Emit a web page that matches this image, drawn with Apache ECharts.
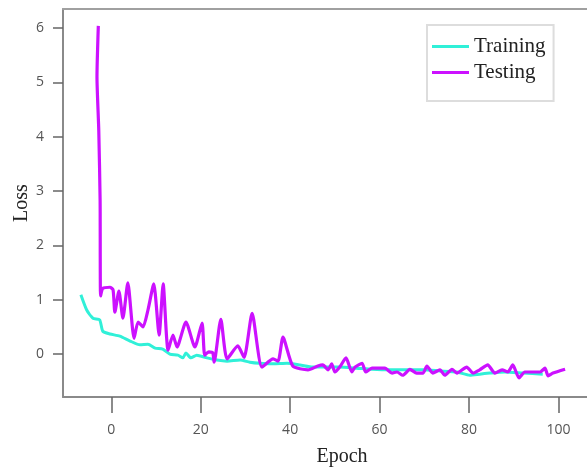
<!DOCTYPE html>
<html>
<head>
<meta charset="utf-8">
<script src="https://cdn.jsdelivr.net/npm/echarts@6/dist/echarts.min.js"></script>
<style>html,body{margin:0;padding:0;background:#fff;}#chart{width:587px;height:468px;}</style>
</head>
<body>
<div id="chart"></div>
<script>
var xTicks = [0, 20, 40, 60, 80, 100];
var yTicks = [0, 1, 2, 3, 4, 5, 6];

var trainEpochs = [-6.8, -5.5, -4.1, -2.6, -1.9, -0.3, 1.9, 4.2, 6.4, 8.2, 9.8, 11.5, 13.1, 14.9, 16.0, 16.7, 17.8, 19.1, 21.4, 23.6, 25.9, 28.8, 31.0, 33.2, 36.2, 39.3, 42.2, 45.1, 47.3, 51.1, 54.9, 58.3, 62.3, 66.8, 69.7, 73.5, 77.3, 80.2, 82.4, 84.7, 88.0, 92.1, 96.5];
var trainLoss = [1.09, 0.81, 0.66, 0.63, 0.42, 0.37, 0.33, 0.24, 0.17, 0.18, 0.11, 0.09, 0.0, -0.02, -0.07, 0.02, -0.07, -0.02, -0.07, -0.11, -0.13, -0.11, -0.15, -0.17, -0.18, -0.17, -0.2, -0.24, -0.24, -0.24, -0.26, -0.28, -0.29, -0.29, -0.29, -0.31, -0.33, -0.39, -0.37, -0.35, -0.33, -0.35, -0.37];

var testEpochs = [-2.9, -3.2, -2.8, -2.5, -2.4, -1.9, -0.3, 0.4, 0.8, 1.7, 2.6, 3.7, 5.1, 6.0, 7.1, 8.2, 9.5, 10.7, 11.6, 12.7, 13.8, 14.7, 16.7, 18.7, 20.3, 20.9, 21.8, 22.7, 23.0, 24.5, 25.9, 28.3, 29.7, 31.5, 33.7, 36.2, 37.3, 38.4, 40.6, 44.0, 46.2, 47.3, 48.5, 49.3, 50.0, 51.1, 52.5, 53.8, 54.5, 56.1, 56.9, 58.3, 61.2, 62.8, 63.9, 65.2, 66.8, 68.3, 69.7, 70.6, 71.9, 73.5, 74.6, 76.2, 77.3, 79.5, 80.9, 82.4, 84.2, 85.8, 87.4, 88.7, 89.8, 91.2, 92.5, 95.9, 97.0, 97.7, 98.8, 101.5];
var testLoss = [6.04, 5.1, 4.12, 2.83, 1.07, 1.21, 1.23, 1.18, 0.77, 1.16, 0.66, 1.31, 0.29, 0.59, 0.5, 0.81, 1.29, 0.35, 1.29, 0.07, 0.35, 0.13, 0.59, 0.13, 0.57, -0.02, 0.04, 0.02, -0.15, 0.64, -0.09, 0.15, -0.06, 0.75, -0.24, -0.09, -0.13, 0.31, -0.22, -0.29, -0.22, -0.2, -0.29, -0.18, -0.33, -0.24, -0.07, -0.33, -0.24, -0.17, -0.33, -0.26, -0.26, -0.35, -0.33, -0.39, -0.28, -0.35, -0.35, -0.22, -0.35, -0.29, -0.39, -0.28, -0.35, -0.24, -0.35, -0.29, -0.2, -0.35, -0.29, -0.33, -0.2, -0.44, -0.33, -0.33, -0.26, -0.4, -0.35, -0.28];

function pairs(xs, ys) { return xs.map(function (x, i) { return [x, ys[i]]; }); }

var chart = echarts.init(document.getElementById('chart'), null, { renderer: 'canvas' });
var serif = '"Liberation Serif", "DejaVu Serif", serif';
var sans = '"Open Sans", "DejaVu Sans", sans-serif';
chart.setOption({
  animation: false,
  backgroundColor: '#ffffff',
  grid: { left: 63, top: 9, right: 0, bottom: 71, containLabel: false, outerBoundsMode: 'none' },
  legend: {
    left: 427, top: 25,
    orient: 'vertical',
    backgroundColor: '#fff',
    borderColor: '#dddddd', borderWidth: 2,
    padding: [11, 8, 18, 5],
    itemGap: 5,
    itemWidth: 37, itemHeight: 3,
    icon: 'rect',
    textStyle: { fontFamily: serif, fontSize: 21, color: '#222' },
    data: ['Training', 'Testing']
  },
  xAxis: [{
    type: 'value', min: -10.8, max: 106.4,
    name: 'Epoch', nameLocation: 'middle', nameGap: 50,
    nameTextStyle: { fontFamily: serif, fontSize: 20, color: '#222', padding: [0, 0, 0, 34] },
    axisLine: { show: true, onZero: false, lineStyle: { color: '#8a8a8a', width: 2 } },
    axisTick: { show: true, length: 16, customValues: xTicks, lineStyle: { color: '#666', width: 1.5 } },
    axisLabel: { customValues: xTicks, margin: 26, fontFamily: sans, fontSize: 14, color: '#555' },
    splitLine: { show: false }
  }, {
    type: 'value', position: 'top', min: -10.8, max: 106.4,
    axisLine: { show: true, onZero: false, lineStyle: { color: '#a0a0a0', width: 2 } },
    axisTick: { show: false }, axisLabel: { show: false }, splitLine: { show: false }
  }],
  yAxis: {
    type: 'value', min: -0.79, max: 6.35,
    name: 'Loss', nameLocation: 'middle', nameGap: 31, nameRotate: 90, nameMoveOverlap: false,
    nameTextStyle: { fontFamily: serif, fontSize: 20, color: '#222' },
    axisLine: { show: true, onZero: false, lineStyle: { color: '#8a8a8a', width: 2 } },
    axisTick: { show: true, length: 10, customValues: yTicks, lineStyle: { color: '#666', width: 1.5 } },
    axisLabel: { customValues: yTicks, margin: 19, fontFamily: sans, fontSize: 14, color: '#555' },
    splitLine: { show: false }
  },
  series: [{
    name: 'Training', type: 'line', xAxisIndex: 0,
    data: pairs(trainEpochs, trainLoss),
    showSymbol: false, smooth: 0.2,
    itemStyle: { color: '#30f0d8' },
    lineStyle: { color: '#30f0d8', width: 3 }
  }, {
    name: 'Testing', type: 'line', xAxisIndex: 0,
    data: pairs(testEpochs, testLoss),
    showSymbol: false, smooth: 0.2,
    itemStyle: { color: '#cc11ff' },
    lineStyle: { color: '#cc11ff', width: 3.2 }
  }]
});
</script>
</body>
</html>
